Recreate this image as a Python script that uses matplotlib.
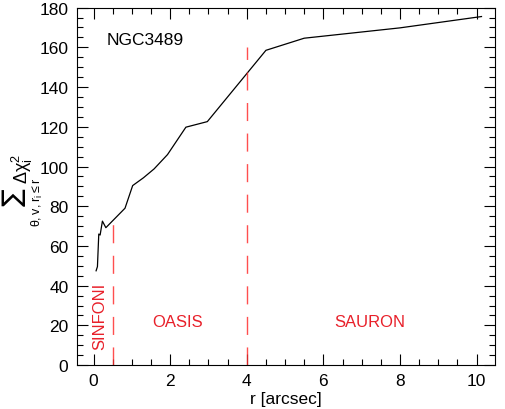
import matplotlib
matplotlib.use("Agg")
import matplotlib.pyplot as plt
from matplotlib.ticker import MultipleLocator

plt.rcParams['font.family'] = ['Liberation Sans', 'DejaVu Sans']
plt.rcParams['mathtext.fontset'] = 'dejavusans'
plt.rcParams['mathtext.default'] = 'regular'

r = [0.065, 0.10, 0.135, 0.17, 0.23, 0.32, 0.82, 1.02, 1.30, 1.58, 1.93, 2.41, 2.97, 4.50, 5.50, 8.00, 10.13]
chi = [47.5, 49.6, 66.0, 65.5, 72.5, 69.2, 79.0, 90.4, 94.3, 98.8, 106.0, 119.8, 122.6, 158.5, 164.6, 169.8, 175.5]

bounds = [0.5, 4.0]
bound_tops = [76, 160]
regions = ["SINFONI", "OASIS", "SAURON"]

fig = plt.figure(figsize=(5.05, 4.10), dpi=100)
ax = fig.add_axes([0.152, 0.107, 0.828, 0.872])

ax.plot(r, chi, color='black', lw=0.9)
for b, t in zip(bounds, bound_tops):
    ax.plot([b, b], [0, t], color='#ff3030', lw=1.0, dashes=(13, 9), alpha=0.85)

ax.text(0.33, 164, "NGC3489", fontsize=12.5, ha='left', va='center')
ax.text(0.16, 25, regions[0], color='#e8202a', fontsize=12, rotation=90, ha='center', va='center')
ax.text(2.2, 22, regions[1], color='#e8202a', fontsize=12, ha='center', va='center')
ax.text(7.2, 22, regions[2], color='#e8202a', fontsize=12, ha='center', va='center')

ax.set_xlim(-0.44, 10.48)
ax.set_ylim(0, 180)
ax.xaxis.set_major_locator(MultipleLocator(2))
ax.xaxis.set_minor_locator(MultipleLocator(0.5))
ax.yaxis.set_major_locator(MultipleLocator(20))
ax.yaxis.set_minor_locator(MultipleLocator(5))
ax.tick_params(which='both', direction='in', top=True, right=True, labelsize=12.5, width=0.8)
ax.tick_params(which='major', length=8, pad=6)
ax.tick_params(which='minor', length=4)
for s in ax.spines.values():
    s.set_linewidth(0.8)

ax.set_xlabel("r [arcsec]", fontsize=12.5, labelpad=2)

W, H = 505, 410
fig.text(14 / W, 1 - 197.5 / H, "\u2211", family='DejaVu Sans', fontsize=19,
         rotation=90, ha='center', va='center')
fig.text(37 / W, 1 - 202 / H, r"$\theta,v,r_i\leq r$", fontsize=9,
         rotation=90, ha='center', va='center')
fig.text(22 / W, 1 - 169 / H, r"$\Delta\chi_i^2$", fontsize=13,
         rotation=90, ha='center', va='center')

fig.savefig("out.png", dpi=100)
